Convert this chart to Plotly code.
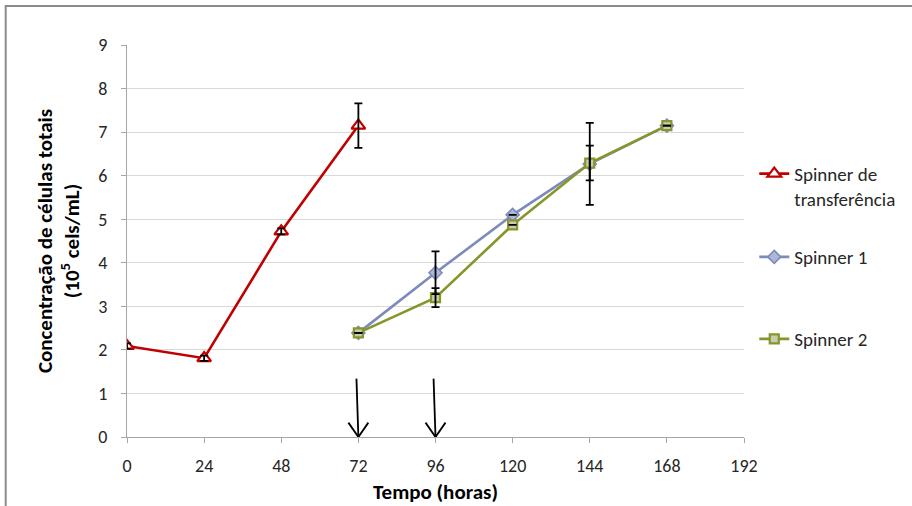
import plotly.graph_objects as go

# Sampling times (hours)
t_transfer = [0, 24, 48, 72]
t_spinner = [72, 96, 120, 144, 168]

# Total cell concentration (10^5 cells/mL)
conc_transfer = [2.09, 1.81, 4.72, 7.15]
err_transfer = [0.06, 0.06, 0.07, 0.51]

conc_spinner1 = [2.39, 3.77, 5.10, 6.27, 7.15]
err_spinner1 = [None, 0.49, None, 0.94, None]

conc_spinner2 = [2.39, 3.20, 4.87, 6.29, 7.15]
err_spinner2 = [None, 0.22, None, 0.40, None]

# Times at which cells were transferred (marked with arrows)
arrow_times = [72, 96]

x_ticks = [0, 24, 48, 72, 96, 120, 144, 168, 192]
y_ticks = list(range(0, 10))

RED = "#C00000"
BLUE = "#7D8BBA"
OLIVE = "#87962B"
FONT = "Carlito, Lato, 'Liberation Sans', sans-serif"

fig = go.Figure()

fig.add_trace(go.Scatter(
    x=t_transfer, y=conc_transfer, mode="lines+markers",
    name="Spinner de<br>transferência",
    line=dict(color=RED, width=2.6),
    marker=dict(symbol="triangle-up", size=12, color="white",
                line=dict(color=RED, width=2.2)),
    legend="legend",
))
fig.add_trace(go.Scatter(
    x=t_spinner, y=conc_spinner1, mode="lines+markers",
    name="Spinner 1",
    line=dict(color=BLUE, width=2.6),
    marker=dict(symbol="diamond", size=10, color="#AEB7D6",
                line=dict(color=BLUE, width=1.6)),
    legend="legend2",
))
fig.add_trace(go.Scatter(
    x=t_spinner, y=conc_spinner2, mode="lines+markers",
    name="Spinner 2",
    line=dict(color=OLIVE, width=2.6),
    marker=dict(symbol="square", size=9, color="#C9CDB0",
                line=dict(color=OLIVE, width=2.2)),
    legend="legend3",
))

# Standard deviation bars drawn on top of the series
for xs, ys, es in [(t_transfer, conc_transfer, err_transfer),
                   (t_spinner, conc_spinner1, err_spinner1),
                   (t_spinner, conc_spinner2, err_spinner2)]:
    fig.add_trace(go.Scatter(
        x=xs, y=ys, mode="markers",
        marker=dict(size=1, color="rgba(0,0,0,0)"),
        error_y=dict(type="data", array=es, visible=True,
                     color="black", thickness=1.8, width=4),
        showlegend=False, hoverinfo="skip",
    ))

# Hand-drawn style arrows marking the transfers
for t in arrow_times:
    fig.add_shape(type="line", xref="x", yref="y",
                  x0=t - 0.6, y0=1.34, x1=t, y1=0.0,
                  line=dict(color="black", width=1.8))
    fig.add_shape(type="path", xref="x", yref="y",
                  path=f"M {t - 3.1} 0.33 L {t} 0.0 L {t + 3.1} 0.33",
                  line=dict(color="black", width=1.8))

# Outer chart frame
fig.add_shape(type="rect", xref="paper", yref="paper",
              x0=-0.1966, y0=-0.2, x1=1.3, y1=1.0995,
              line=dict(color="#8C8C8C", width=2), layer="below")

axis_common = dict(
    showline=True, linecolor="#A6A6A6", linewidth=1.3,
    ticks="outside", ticklen=5, tickcolor="#A6A6A6", tickwidth=1.3,
    tickfont=dict(family=FONT, size=18, color="#262626"),
    zeroline=False, automargin=False,
)

LEGEND_FONT = dict(family=FONT, size=19, color="#262626")

fig.update_layout(
    width=912, height=506,
    margin=dict(l=127, r=167, t=45, b=69),
    paper_bgcolor="white", plot_bgcolor="white",
    font=dict(family=FONT, color="#262626"),
    xaxis=dict(
        range=[0, 192], tickvals=x_ticks, showgrid=False,
        ticklabelstandoff=7,
        title=dict(text="<b>Tempo (horas)</b>", standoff=8,
                   font=dict(family=FONT, size=21, color="#000000")),
        **axis_common,
    ),
    yaxis=dict(
        range=[0, 9], tickvals=y_ticks, showgrid=True,
        gridcolor="#D9D9D9", gridwidth=1.3,
        ticklabelstandoff=10,
        title=dict(text="<b>Concentração de células totais<br>(10<sup>5</sup> cels/mL)</b>",
                   standoff=12,
                   font=dict(family=FONT, size=21, color="#000000")),
        **axis_common,
    ),
    legend=dict(x=1.015, y=0.72, xanchor="left", yanchor="top",
                valign="top", font=LEGEND_FONT, bgcolor="rgba(0,0,0,0)"),
    legend2=dict(x=1.015, y=0.459, xanchor="left", yanchor="middle",
                 font=LEGEND_FONT, bgcolor="rgba(0,0,0,0)"),
    legend3=dict(x=1.015, y=0.25, xanchor="left", yanchor="middle",
                 font=LEGEND_FONT, bgcolor="rgba(0,0,0,0)"),
    showlegend=True,
)

fig.write_html("out.html")
